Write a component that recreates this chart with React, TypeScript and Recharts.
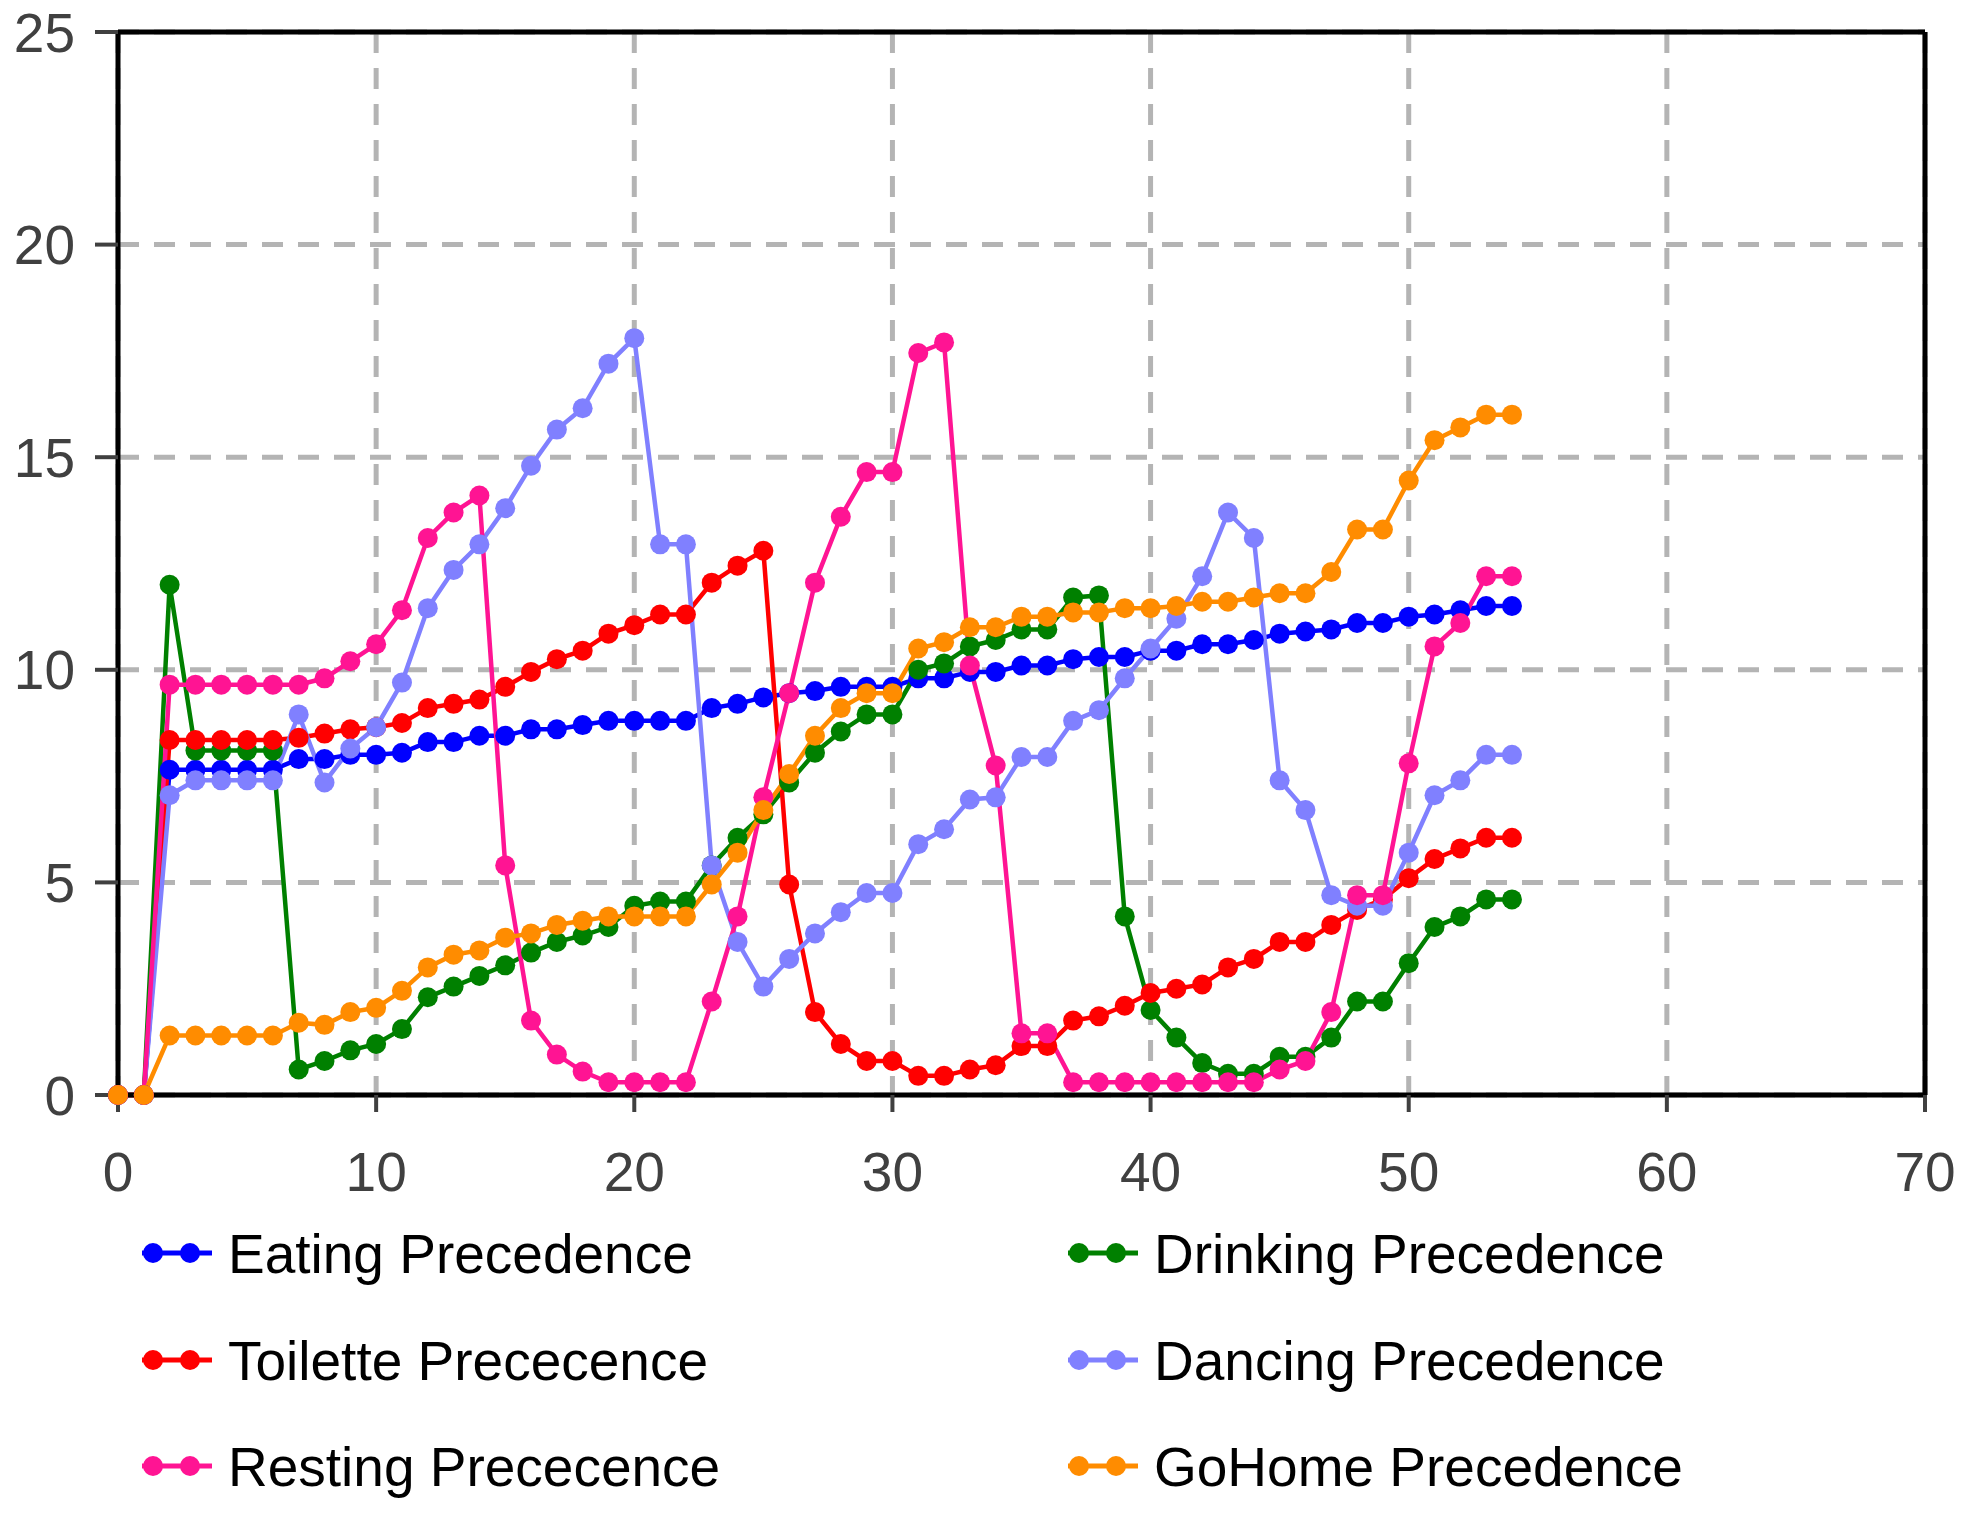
import {
  LineChart,
  Line,
  XAxis,
  YAxis,
  CartesianGrid,
  ReferenceLine,
} from 'recharts';

const time = [
  0, 1, 2, 3, 4, 5, 6, 7, 8, 9, 10, 11, 12, 13, 14, 15, 16, 17, 18, 19, 20, 21, 22, 23, 24, 25, 26,
  27, 28, 29, 30, 31, 32, 33, 34, 35, 36, 37, 38, 39, 40, 41, 42, 43, 44, 45, 46, 47, 48, 49, 50,
  51, 52, 53, 54,
];

const eating = [
  0, 0, 7.65, 7.65, 7.65, 7.65, 7.65, 7.9, 7.9, 8.0, 8.0, 8.05, 8.3, 8.3, 8.45, 8.45, 8.6, 8.6, 8.7,
  8.8, 8.8, 8.8, 8.8, 9.1, 9.2, 9.35, 9.45, 9.5, 9.6, 9.6, 9.6, 9.8, 9.8, 9.95, 9.95, 10.1, 10.1,
  10.25, 10.3, 10.3, 10.45, 10.45, 10.6, 10.6, 10.7, 10.85, 10.9, 10.95, 11.1, 11.1, 11.25, 11.3,
  11.4, 11.5, 11.5,
];

const drinking = [
  0, 0, 12.0, 8.1, 8.1, 8.1, 8.1, 0.6, 0.8, 1.05, 1.2, 1.55, 2.3, 2.55, 2.8, 3.05, 3.35, 3.6, 3.75,
  3.95, 4.45, 4.55, 4.55, 5.4, 6.05, 6.6, 7.35, 8.05, 8.55, 8.95, 8.95, 10.0, 10.15, 10.55, 10.7,
  10.95, 10.95, 11.7, 11.75, 4.2, 2.0, 1.35, 0.75, 0.5, 0.5, 0.9, 0.9, 1.35, 2.2, 2.2, 3.1, 3.95,
  4.2, 4.6, 4.6,
];

const toilette = [
  0, 0, 8.35, 8.35, 8.35, 8.35, 8.35, 8.4, 8.5, 8.6, 8.65, 8.75, 9.1, 9.2, 9.3, 9.6, 9.95, 10.25,
  10.45, 10.85, 11.05, 11.3, 11.3, 12.05, 12.45, 12.8, 4.95, 1.95, 1.2, 0.8, 0.8, 0.45, 0.45, 0.6,
  0.7, 1.15, 1.15, 1.75, 1.85, 2.1, 2.4, 2.5, 2.6, 3.0, 3.2, 3.6, 3.6, 4.0, 4.35, 4.6, 5.1, 5.55,
  5.8, 6.05, 6.05,
];

const dancing = [
  0, 0, 7.05, 7.4, 7.4, 7.4, 7.4, 8.95, 7.35, 8.15, 8.65, 9.7, 11.45, 12.35, 12.95, 13.8, 14.8,
  15.65, 16.15, 17.2, 17.8, 12.95, 12.95, 5.4, 3.6, 2.55, 3.2, 3.8, 4.3, 4.75, 4.75, 5.9, 6.25,
  6.95, 7.0, 7.95, 7.95, 8.8, 9.05, 9.8, 10.5, 11.2, 12.2, 13.7, 13.1, 7.4, 6.7, 4.7, 4.45, 4.45,
  5.7, 7.05, 7.4, 8.0, 8.0,
];

const resting = [
  0, 0, 9.65, 9.65, 9.65, 9.65, 9.65, 9.65, 9.8, 10.2, 10.6, 11.4, 13.1, 13.7, 14.1, 5.4, 1.75,
  0.95, 0.55, 0.3, 0.3, 0.3, 0.3, 2.2, 4.2, 7.0, 9.45, 12.05, 13.6, 14.65, 14.65, 17.45, 17.7, 10.1,
  7.75, 1.45, 1.45, 0.3, 0.3, 0.3, 0.3, 0.3, 0.3, 0.3, 0.3, 0.6, 0.8, 1.95, 4.7, 4.7, 7.8, 10.55,
  11.1, 12.2, 12.2,
];

const goHome = [
  0, 0, 1.4, 1.4, 1.4, 1.4, 1.4, 1.7, 1.65, 1.95, 2.05, 2.45, 3.0, 3.3, 3.4, 3.7, 3.8, 4.0, 4.1,
  4.2, 4.2, 4.2, 4.2, 4.95, 5.7, 6.7, 7.55, 8.45, 9.1, 9.45, 9.45, 10.5, 10.65, 11.0, 11.0, 11.25,
  11.25, 11.35, 11.35, 11.45, 11.45, 11.5, 11.6, 11.6, 11.7, 11.8, 11.8, 12.3, 13.3, 13.3, 14.45,
  15.4, 15.7, 16.0, 16.0,
];

const xTicks = [0, 10, 20, 30, 40, 50, 60, 70];
const yTicks = [0, 5, 10, 15, 20, 25];

// legend order is row-major, same as drawing order
const SERIES = [
  { key: 'eating', name: 'Eating Precedence', color: '#0000ff' },
  { key: 'drinking', name: 'Drinking Precedence', color: '#008000' },
  { key: 'toilette', name: 'Toilette Prececence', color: '#ff0000' },
  { key: 'dancing', name: 'Dancing Precedence', color: '#8080ff' },
  { key: 'resting', name: 'Resting Prececence', color: '#ff1493' },
  { key: 'goHome', name: 'GoHome Precedence', color: '#ff8c00' },
];

const data = time.map((t, i) => ({
  t,
  eating: eating[i],
  drinking: drinking[i],
  toilette: toilette[i],
  dancing: dancing[i],
  resting: resting[i],
  goHome: goHome[i],
}));

const FONT = "'Liberation Sans', Arial, sans-serif";
const W = 1972;
const H = 1513;

function ChartLegend() {
  const rows = [1253, 1360, 1466];
  const cols = [142, 1068];
  return (
    <svg
      width={W}
      height={H}
      style={{ position: 'absolute', left: 0, top: 0, pointerEvents: 'none' }}
    >
      {SERIES.map((s, i) => {
        const x = cols[i % 2];
        const y = rows[Math.floor(i / 2)];
        return (
          <g key={s.key}>
            <line x1={x} y1={y} x2={x + 70} y2={y} stroke={s.color} strokeWidth={5} />
            <circle cx={x + 11} cy={y} r={10} fill={s.color} />
            <circle cx={x + 48} cy={y} r={10} fill={s.color} />
            <text
              x={x + 86}
              y={y + 20}
              fontFamily={FONT}
              fontSize={55}
              fill="#000"
            >
              {s.name}
            </text>
          </g>
        );
      })}
    </svg>
  );
}

export default function App() {
  return (
    <div style={{ position: 'relative', width: W, height: H, background: '#fff' }}>
      <style>{'body { margin: 0; }'}</style>
      <LineChart
        width={W}
        height={H}
        data={data}
        margin={{ top: 32, right: 47, left: 0, bottom: 318 }}
      >
        <CartesianGrid stroke="#b4b4b4" strokeWidth={5} strokeDasharray="21 15" />
        <XAxis
          dataKey="t"
          type="number"
          domain={[0, 70]}
          ticks={xTicks}
          height={100}
          axisLine={{ stroke: '#000', strokeWidth: 5 }}
          tickLine={{ stroke: '#404040', strokeWidth: 4 }}
          tickSize={17}
          tickMargin={40}
          tick={{ fill: '#404040', fontSize: 55, fontFamily: FONT }}
          interval={0}
        />
        <YAxis
          type="number"
          domain={[0, 25]}
          ticks={yTicks}
          width={118}
          axisLine={{ stroke: '#000', strokeWidth: 5 }}
          tickLine={{ stroke: '#404040', strokeWidth: 4 }}
          tickSize={23}
          tickMargin={20}
          tick={{ fill: '#404040', fontSize: 55, fontFamily: FONT }}
          interval={0}
        />
        <ReferenceLine y={25} stroke="#000" strokeWidth={5} />
        <ReferenceLine x={70} stroke="#000" strokeWidth={5} />
        {SERIES.map((s) => (
          <Line
            key={s.key}
            type="linear"
            dataKey={s.key}
            name={s.name}
            stroke={s.color}
            strokeWidth={4.5}
            dot={{ r: 10, fill: s.color, stroke: 'none' }}
            activeDot={false}
            isAnimationActive={false}
          />
        ))}
      </LineChart>
      <ChartLegend />
    </div>
  );
}
